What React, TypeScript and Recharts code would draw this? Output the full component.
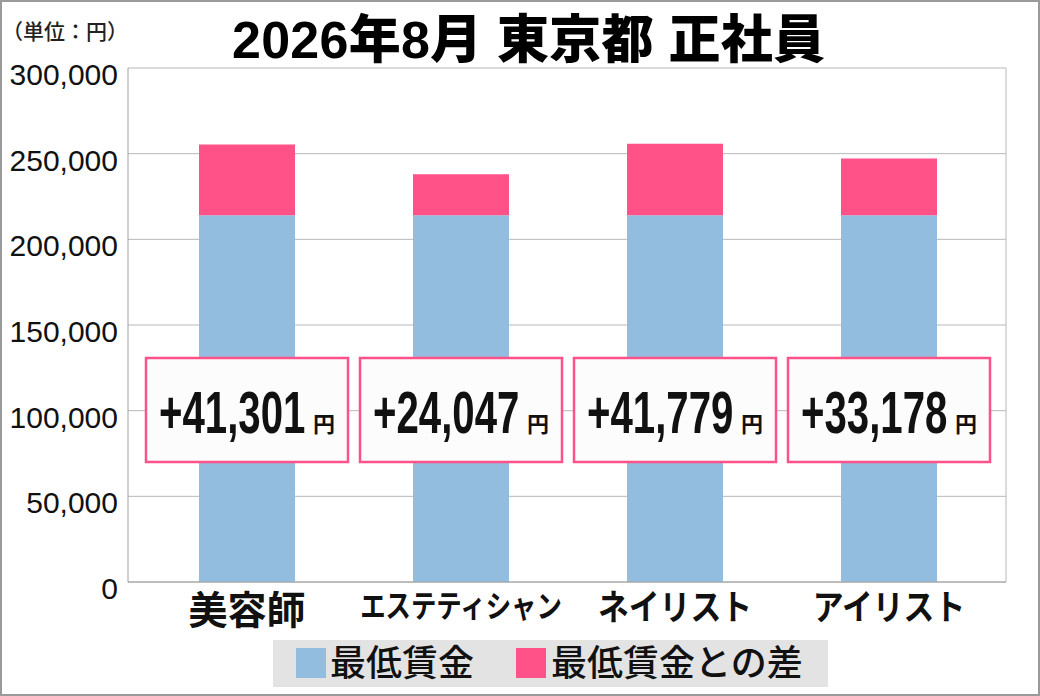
import { Bar, BarChart, CartesianGrid, LabelList, XAxis, YAxis } from 'recharts';

// 2026年8月 東京都 正社員: 職種別の月給（最低賃金 + 最低賃金との差）
const categories = ['美容師', 'エステティシャン', 'ネイリスト', 'アイリスト'];
const minimumWage = [214000, 214000, 214000, 214000];
const wageGap = [41301, 24047, 41779, 33178];
const yTicks = [0, 50000, 100000, 150000, 200000, 250000, 300000];
const seriesNames = ['最低賃金', '最低賃金との差'];
const chartTitle = '2026年8月 東京都 正社員';
const unitLabel = '（単位：円）';

const BLUE = '#93bddf';
const PINK = '#ff5289';
const GRID = '#b8b8b8';
const FRAME = '#a0a0a0';
const LATIN = "'Liberation Sans', Arial, 'Noto Sans CJK JP', sans-serif";
const CJK = "'Noto Sans CJK JP', 'Liberation Sans', sans-serif";

const data = categories.map((name, i) => ({
  name,
  base: minimumWage[i],
  gap: wageGap[i],
}));

function YTick({ x, y, payload }: any) {
  return (
    <text x={x - 2} y={y + 17} textAnchor="end" fontFamily={LATIN} fontSize={30} fill="#111">
      {Number(payload.value).toLocaleString('en-US')}
    </text>
  );
}

// katakana names are drawn narrower than the kanji one, like the original artwork
function categoryStyle(label: string) {
  if (label.length <= 3) return { fs: 39, squeeze: 1 };
  if (label.length <= 5) return { fs: 35, squeeze: 0.88 };
  return { fs: 31, squeeze: 0.82 };
}

function XTick({ x, y, payload }: any) {
  const { fs, squeeze } = categoryStyle(payload.value);
  return (
    <g transform={`translate(${x}, ${y + 0.86 * fs}) scale(${squeeze}, 1)`}>
      <text x={0} y={0} textAnchor="middle" fontFamily={CJK} fontWeight={700} fontSize={fs} fill="#111">
        {payload.value}
      </text>
    </g>
  );
}

// white box with the gap amount, sitting in the middle of the blue bar
function GapLabel({ x, y, width, height, value }: any) {
  const cx = x + width / 2;
  const top = y + height - 224;
  return (
    <g>
      <rect x={cx - 101} y={top} width={202} height={104} fill="#fcfcfc" stroke={PINK} strokeWidth={2.5} />
      <g transform={`translate(${cx - 88}, ${top + 75}) scale(0.67, 1)`}>
        <text x={0} y={0} fontFamily={LATIN} fontWeight={700} fontSize={60} fill="#111">
          {`+${Number(value).toLocaleString('en-US')}`}
        </text>
      </g>
      <text x={cx + 66} y={top + 74} fontFamily={CJK} fontWeight={700} fontSize={22} fill="#111">
        円
      </text>
    </g>
  );
}

export default function App() {
  return (
    <div style={{ position: 'absolute', left: 0, top: 0, width: 1040, height: 696, background: '#fff' }}>
      <BarChart width={1040} height={696} data={data} margin={{ top: 68, right: 34, left: 0, bottom: 64 }}>
        <CartesianGrid
          stroke={GRID}
          verticalCoordinatesGenerator={({ offset }: any) => [offset.left + offset.width]}
        />
        <XAxis
          dataKey="name"
          height={50}
          padding={{ left: 12, right: 10 }}
          axisLine={{ stroke: FRAME }}
          tickLine={false}
          tick={<XTick />}
          interval={0}
        />
        <YAxis
          width={128}
          domain={[0, 300000]}
          ticks={yTicks}
          axisLine={{ stroke: FRAME }}
          tickLine={false}
          tick={<YTick />}
        />
        <Bar dataKey="base" name={seriesNames[0]} stackId="wage" fill={BLUE} barSize={96} isAnimationActive={false}>
          <LabelList dataKey="gap" content={<GapLabel />} />
        </Bar>
        <Bar dataKey="gap" name={seriesNames[1]} stackId="wage" fill={PINK} barSize={96} isAnimationActive={false} />
      </BarChart>

      <svg width={1040} height={696} style={{ position: 'absolute', left: 0, top: 0, pointerEvents: 'none' }}>
        <text x={2} y={39} fontFamily={CJK} fontSize={21} fontWeight={500} fill="#222">
          {unitLabel}
        </text>
        <text
          x={232}
          y={58}
          fontFamily={LATIN}
          fontWeight={900}
          fontSize={52}
          fill="#000"
          textLength={593}
          lengthAdjust="spacing"
        >
          {chartTitle}
        </text>

        <rect x={273} y={640} width={555} height={47} fill="#e3e3e3" />
        <rect x={296} y={648} width={30} height={30} fill={BLUE} />
        <text x={330} y={676} fontFamily={CJK} fontSize={36} fontWeight={500} fill="#111">
          {seriesNames[0]}
        </text>
        <rect x={516} y={648} width={30} height={30} fill={PINK} />
        <text x={551} y={676} fontFamily={CJK} fontSize={36} fontWeight={500} fill="#111">
          {seriesNames[1]}
        </text>

        <rect x={1} y={1} width={1038} height={694} fill="none" stroke="#9a9a9a" strokeWidth={2} />
      </svg>
    </div>
  );
}
